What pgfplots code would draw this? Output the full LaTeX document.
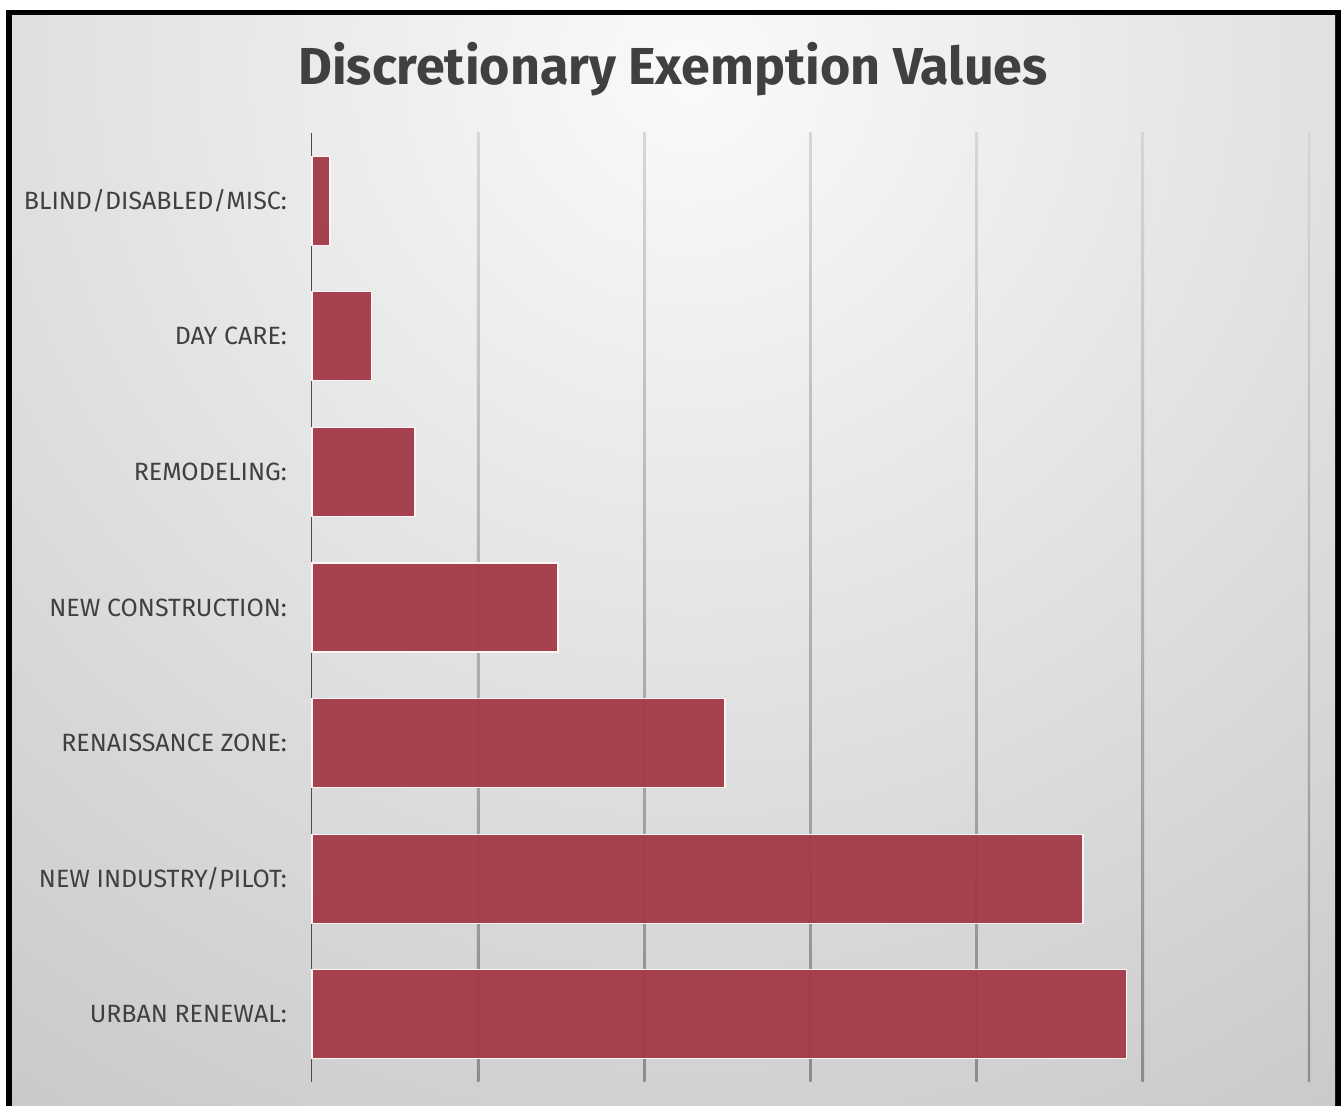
\documentclass[border=0pt]{standalone}
\usepackage{pgfplots}
\pgfplotsset{compat=1.18}
\usepackage{fontspec}
\setmainfont{Fira Sans}
\definecolor{barred}{HTML}{A33A48}
\definecolor{txt}{HTML}{404040}
\begin{document}
\begin{tikzpicture}[x=0.5pt,y=0.5pt]
\useasboundingbox (0,0) rectangle (1341,1106);
\begin{scope}
\clip (0,0) rectangle (1341,1106);
\fill[black] (6,0) rectangle (1341,1096);
\fill[black!22] (12,0) rectangle (1335,1090);
\begin{scope}
\clip (12,0) rectangle (1335,1090);
\shade[inner color=white!98!black, outer color=black!22] (690,1036) circle (1300);
\end{scope}
\end{scope}
\node[font=\bfseries\fontsize{26}{30}\selectfont, text=txt, anchor=base] at (673,1021) {Discretionary Exemption Values};
\begin{axis}[
  at={(156pt,12pt)}, anchor=south west,
  scale only axis, width=498.5pt, height=474.5pt,
  xmin=0, xmax=6, ymin=-0.5, ymax=6.5,
  axis line style={draw=none},
  major tick length=0pt,
  xtick={0,...,6}, xticklabels={},
  ytick={0,...,6},
  yticklabels={URBAN RENEWAL:, NEW INDUSTRY/PILOT:, RENAISSANCE ZONE:, NEW CONSTRUCTION:, REMODELING:, DAY CARE:, BLIND/DISABLED/MISC:},
  yticklabel style={font=\fontsize{12.5}{15}\selectfont, text=txt, xshift=-9pt},
  clip=false,
]
\pgfplotsinvokeforeach{1,...,6}{
  \shade[top color=black!16, bottom color=black!45] ([xshift=-0.6pt]axis cs:#1,6.5) rectangle ([xshift=0.6pt]axis cs:#1,-0.5);
}
\draw[black!70, line width=0.5pt] (axis cs:0,6.5) -- (axis cs:0,-0.5);
\addplot[xbar, bar width=44.5pt, fill=barred, fill opacity=0.95, draw=white!85!pink, line width=0.6pt]
coordinates {(4.90,0) (4.64,1) (2.485,2) (1.48,3) (0.62,4) (0.36,5) (0.108,6)};
\end{axis}
\end{tikzpicture}
\end{document}
